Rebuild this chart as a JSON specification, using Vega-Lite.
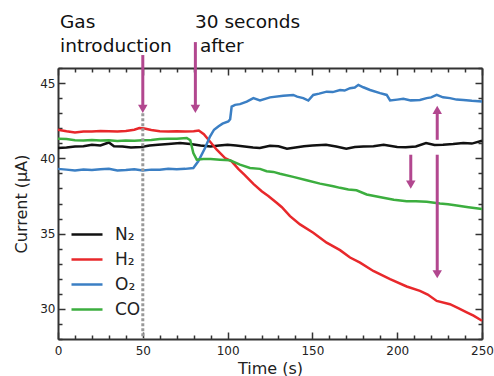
{
  "$schema": "https://vega.github.io/schema/vega-lite/v6.json",
  "width": 424,
  "height": 271,
  "autosize": "none",
  "padding": {"left": 58, "top": 68, "right": 12, "bottom": 37},
  "config": {
    "view": {"stroke": null},
    "font": "DejaVu Sans",
    "axis": {
      "grid": false,
      "labelFont": "DejaVu Sans",
      "labelFontSize": 12,
      "labelColor": "#222",
      "titleFont": "DejaVu Sans",
      "titleFontSize": 16,
      "titleFontWeight": "normal",
      "titleColor": "#222",
      "domainColor": "#333",
      "domainWidth": 2,
      "tickColor": "#333",
      "tickWidth": 1.5,
      "labelOverlap": false,
      "labelFlush": false
    }
  },
  "datasets": {
    "lines": [
      {"gas":"N₂","t":0,"v":40.69},{"gas":"N₂","t":5,"v":40.72},{"gas":"N₂","t":10,"v":40.78},{"gas":"N₂","t":15,"v":40.8},{"gas":"N₂","t":20,"v":40.9},{"gas":"N₂","t":25,"v":40.85},{"gas":"N₂","t":30,"v":41.05},{"gas":"N₂","t":33,"v":40.8},{"gas":"N₂","t":38,"v":40.78},{"gas":"N₂","t":43,"v":40.72},{"gas":"N₂","t":49,"v":40.75},{"gas":"N₂","t":54,"v":40.85},{"gas":"N₂","t":59,"v":40.9},{"gas":"N₂","t":65,"v":40.95},{"gas":"N₂","t":72,"v":41.02},{"gas":"N₂","t":78,"v":40.95},{"gas":"N₂","t":84,"v":40.85},{"gas":"N₂","t":90,"v":40.79},{"gas":"N₂","t":95,"v":40.85},{"gas":"N₂","t":100,"v":40.9},{"gas":"N₂","t":105,"v":40.85},{"gas":"N₂","t":110,"v":40.79},{"gas":"N₂","t":115,"v":40.72},{"gas":"N₂","t":119,"v":40.69},{"gas":"N₂","t":125,"v":40.84},{"gas":"N₂","t":130,"v":40.8},{"gas":"N₂","t":135,"v":40.64},{"gas":"N₂","t":140,"v":40.72},{"gas":"N₂","t":145,"v":40.8},{"gas":"N₂","t":150,"v":40.85},{"gas":"N₂","t":158,"v":40.9},{"gas":"N₂","t":164,"v":40.78},{"gas":"N₂","t":170,"v":40.64},{"gas":"N₂","t":175,"v":40.75},{"gas":"N₂","t":180,"v":40.79},{"gas":"N₂","t":186,"v":40.8},{"gas":"N₂","t":192,"v":40.9},{"gas":"N₂","t":200,"v":40.75},{"gas":"N₂","t":205,"v":40.74},{"gas":"N₂","t":211,"v":40.79},{"gas":"N₂","t":217,"v":41.02},{"gas":"N₂","t":222,"v":40.88},{"gas":"N₂","t":227,"v":40.9},{"gas":"N₂","t":233,"v":40.95},{"gas":"N₂","t":239,"v":41.02},{"gas":"N₂","t":244,"v":40.98},{"gas":"N₂","t":250,"v":41.17},
      {"gas":"H₂","t":0,"v":41.9},{"gas":"H₂","t":5,"v":41.8},{"gas":"H₂","t":10,"v":41.72},{"gas":"H₂","t":15,"v":41.78},{"gas":"H₂","t":20,"v":41.78},{"gas":"H₂","t":25,"v":41.82},{"gas":"H₂","t":30,"v":41.8},{"gas":"H₂","t":35,"v":41.78},{"gas":"H₂","t":40,"v":41.82},{"gas":"H₂","t":45,"v":41.9},{"gas":"H₂","t":48,"v":42.01},{"gas":"H₂","t":51,"v":41.98},{"gas":"H₂","t":55,"v":41.88},{"gas":"H₂","t":60,"v":41.8},{"gas":"H₂","t":65,"v":41.78},{"gas":"H₂","t":70,"v":41.8},{"gas":"H₂","t":75,"v":41.78},{"gas":"H₂","t":80,"v":41.8},{"gas":"H₂","t":83,"v":41.85},{"gas":"H₂","t":86,"v":41.6},{"gas":"H₂","t":89.6,"v":41.12},{"gas":"H₂","t":93.6,"v":40.57},{"gas":"H₂","t":98.5,"v":40.02},{"gas":"H₂","t":102.4,"v":39.8},{"gas":"H₂","t":106.3,"v":39.3},{"gas":"H₂","t":110,"v":38.9},{"gas":"H₂","t":115.2,"v":38.3},{"gas":"H₂","t":120.1,"v":37.81},{"gas":"H₂","t":124,"v":37.5},{"gas":"H₂","t":128.9,"v":37.05},{"gas":"H₂","t":132,"v":36.75},{"gas":"H₂","t":136.8,"v":36.16},{"gas":"H₂","t":142.7,"v":35.61},{"gas":"H₂","t":150.5,"v":35.06},{"gas":"H₂","t":158.4,"v":34.4},{"gas":"H₂","t":166.3,"v":33.9},{"gas":"H₂","t":172.2,"v":33.41},{"gas":"H₂","t":178.1,"v":33.07},{"gas":"H₂","t":185.9,"v":32.52},{"gas":"H₂","t":195.8,"v":31.97},{"gas":"H₂","t":205.6,"v":31.49},{"gas":"H₂","t":213.4,"v":31.2},{"gas":"H₂","t":218,"v":30.95},{"gas":"H₂","t":223.3,"v":30.53},{"gas":"H₂","t":231.1,"v":30.31},{"gas":"H₂","t":236,"v":30.05},{"gas":"H₂","t":241,"v":29.77},{"gas":"H₂","t":245,"v":29.55},{"gas":"H₂","t":250,"v":29.21},
      {"gas":"O₂","t":0,"v":39.3},{"gas":"O₂","t":5,"v":39.25},{"gas":"O₂","t":10,"v":39.2},{"gas":"O₂","t":15,"v":39.25},{"gas":"O₂","t":20,"v":39.22},{"gas":"O₂","t":25,"v":39.28},{"gas":"O₂","t":30,"v":39.3},{"gas":"O₂","t":35,"v":39.2},{"gas":"O₂","t":40,"v":39.22},{"gas":"O₂","t":45,"v":39.28},{"gas":"O₂","t":50,"v":39.2},{"gas":"O₂","t":55,"v":39.25},{"gas":"O₂","t":60,"v":39.25},{"gas":"O₂","t":65,"v":39.3},{"gas":"O₂","t":70,"v":39.28},{"gas":"O₂","t":75,"v":39.3},{"gas":"O₂","t":79.8,"v":39.36},{"gas":"O₂","t":82.7,"v":39.8},{"gas":"O₂","t":86.7,"v":40.69},{"gas":"O₂","t":89.6,"v":41.45},{"gas":"O₂","t":92,"v":41.9},{"gas":"O₂","t":94.5,"v":42.12},{"gas":"O₂","t":97,"v":42.3},{"gas":"O₂","t":100.4,"v":42.45},{"gas":"O₂","t":101.5,"v":42.6},{"gas":"O₂","t":102.4,"v":43.44},{"gas":"O₂","t":104.4,"v":43.55},{"gas":"O₂","t":107.3,"v":43.6},{"gas":"O₂","t":111.3,"v":43.77},{"gas":"O₂","t":115.2,"v":44.0},{"gas":"O₂","t":119.1,"v":43.85},{"gas":"O₂","t":125,"v":44.05},{"gas":"O₂","t":132.8,"v":44.15},{"gas":"O₂","t":138.7,"v":44.21},{"gas":"O₂","t":141,"v":44.1},{"gas":"O₂","t":144.6,"v":44.0},{"gas":"O₂","t":147.6,"v":43.84},{"gas":"O₂","t":150.5,"v":44.21},{"gas":"O₂","t":154,"v":44.3},{"gas":"O₂","t":158.4,"v":44.43},{"gas":"O₂","t":162,"v":44.4},{"gas":"O₂","t":166.3,"v":44.54},{"gas":"O₂","t":169,"v":44.5},{"gas":"O₂","t":172.2,"v":44.66},{"gas":"O₂","t":175,"v":44.7},{"gas":"O₂","t":177.1,"v":44.88},{"gas":"O₂","t":180,"v":44.72},{"gas":"O₂","t":184,"v":44.54},{"gas":"O₂","t":189.9,"v":44.33},{"gas":"O₂","t":193.8,"v":44.21},{"gas":"O₂","t":195.8,"v":43.84},{"gas":"O₂","t":200,"v":43.9},{"gas":"O₂","t":203.6,"v":43.95},{"gas":"O₂","t":208,"v":43.85},{"gas":"O₂","t":213.4,"v":43.88},{"gas":"O₂","t":217.4,"v":44.0},{"gas":"O₂","t":220,"v":44.05},{"gas":"O₂","t":223.3,"v":44.21},{"gas":"O₂","t":227,"v":44.05},{"gas":"O₂","t":231.1,"v":44.0},{"gas":"O₂","t":235,"v":43.9},{"gas":"O₂","t":239,"v":43.88},{"gas":"O₂","t":244,"v":43.82},{"gas":"O₂","t":250,"v":43.77},
      {"gas":"CO","t":0,"v":41.3},{"gas":"CO","t":5,"v":41.28},{"gas":"CO","t":10,"v":41.2},{"gas":"CO","t":15,"v":41.18},{"gas":"CO","t":20,"v":41.22},{"gas":"CO","t":25,"v":41.18},{"gas":"CO","t":30,"v":41.2},{"gas":"CO","t":35,"v":41.15},{"gas":"CO","t":40,"v":41.18},{"gas":"CO","t":45,"v":41.17},{"gas":"CO","t":50,"v":41.2},{"gas":"CO","t":55,"v":41.22},{"gas":"CO","t":60,"v":41.28},{"gas":"CO","t":65,"v":41.3},{"gas":"CO","t":70,"v":41.3},{"gas":"CO","t":75.9,"v":41.35},{"gas":"CO","t":78,"v":41.2},{"gas":"CO","t":79.8,"v":40.35},{"gas":"CO","t":81.8,"v":39.91},{"gas":"CO","t":85.7,"v":39.96},{"gas":"CO","t":90,"v":39.95},{"gas":"CO","t":95.5,"v":39.91},{"gas":"CO","t":101.4,"v":39.87},{"gas":"CO","t":107.3,"v":39.58},{"gas":"CO","t":113.2,"v":39.36},{"gas":"CO","t":119.1,"v":39.3},{"gas":"CO","t":123,"v":39.14},{"gas":"CO","t":127,"v":39.1},{"gas":"CO","t":130.9,"v":38.98},{"gas":"CO","t":138.7,"v":38.77},{"gas":"CO","t":146.6,"v":38.54},{"gas":"CO","t":154.5,"v":38.32},{"gas":"CO","t":162.3,"v":38.15},{"gas":"CO","t":166.3,"v":38.04},{"gas":"CO","t":171.2,"v":37.93},{"gas":"CO","t":176,"v":37.88},{"gas":"CO","t":182,"v":37.6},{"gas":"CO","t":191.8,"v":37.38},{"gas":"CO","t":198,"v":37.25},{"gas":"CO","t":205.6,"v":37.15},{"gas":"CO","t":211,"v":37.15},{"gas":"CO","t":217.4,"v":37.11},{"gas":"CO","t":225.2,"v":37.0},{"gas":"CO","t":230,"v":36.95},{"gas":"CO","t":235.1,"v":36.87},{"gas":"CO","t":242,"v":36.75},{"gas":"CO","t":250,"v":36.63}
    ],
    "marker": [{"t": 50, "v": 43.0, "v2": 28}],
    "shafts": [
      {"t": 50, "v": 46.86, "v2": 43.3},
      {"t": 81, "v": 47.72, "v2": 43.3},
      {"t": 208, "v": 40.24, "v2": 38.3},
      {"t": 223.6, "v": 43.2, "v2": 41.23},
      {"t": 223.6, "v": 40.24, "v2": 32.3}
    ],
    "heads": [
      {"t": 50, "v": 43.28, "dir": "down"},
      {"t": 81, "v": 43.28, "dir": "down"},
      {"t": 208, "v": 38.26, "dir": "down"},
      {"t": 223.6, "v": 43.22, "dir": "up"},
      {"t": 223.6, "v": 32.3, "dir": "down"}
    ],
    "notes": [
      {"t": 1.2, "v": 48.63, "text": "Gas"},
      {"t": 1.2, "v": 47.08, "text": "introduction"},
      {"t": 80.8, "v": 48.63, "text": "30 seconds"},
      {"t": 83.7, "v": 47.08, "text": "after"}
    ]
  },
  "layer": [
    {
      "data": {"name": "lines"},
      "mark": {"type": "line", "strokeWidth": 2.5},
      "encoding": {
        "x": {
          "field": "t", "type": "quantitative",
          "scale": {"domain": [0, 250], "nice": false, "zero": false},
          "axis": {
            "orient": "bottom",
            "title": "Time (s)",
            "values": [0,10,20,30,40,50,60,70,80,90,100,110,120,130,140,150,160,170,180,190,200,210,220,230,240,250],
            "labelExpr": "datum.value % 50 === 0 ? datum.label : ''",
            "tickSize": {"condition": {"test": "datum.value % 50 === 0", "value": -7}, "value": -4},
            "labelPadding": 13,
            "titlePadding": 1
          }
        },
        "y": {
          "field": "v", "type": "quantitative",
          "scale": {"domain": [28, 46], "nice": false, "zero": false},
          "axis": {
            "orient": "left",
            "title": "Current (μA)",
            "values": [28,29,30,31,32,33,34,35,36,37,38,39,40,41,42,43,44,45,46],
            "labelExpr": "datum.value % 5 === 0 ? datum.label : ''",
            "tickSize": {"condition": {"test": "datum.value % 5 === 0", "value": -7}, "value": -4},
            "labelPadding": 10,
            "titlePadding": 10
          }
        },
        "color": {
          "field": "gas", "type": "nominal",
          "scale": {"domain": ["N₂", "H₂", "O₂", "CO"], "range": ["#111111", "#e8282b", "#3b7fc4", "#3cae3f"]},
          "legend": {
            "orient": "none",
            "legendX": 12,
            "legendY": 154,
            "title": null,
            "symbolType": "stroke",
            "symbolSize": 961,
            "symbolStrokeWidth": 2.5,
            "labelFont": "DejaVu Sans",
            "labelFontSize": 17,
            "labelColor": "#222",
            "labelOffset": 11,
            "clipHeight": 25,
            "rowPadding": 0,
            "padding": 0
          }
        }
      }
    },
    {
      "data": {"name": "marker"},
      "mark": {"type": "rule", "color": "#999999", "strokeWidth": 3, "strokeDash": [3, 2]},
      "encoding": {
        "x": {"field": "t", "type": "quantitative", "axis": null},
        "y": {"field": "v", "type": "quantitative", "axis": null},
        "y2": {"field": "v2"}
      }
    },
    {
      "data": {"name": "shafts"},
      "mark": {"type": "rule", "color": "#b2478f", "strokeWidth": 3},
      "encoding": {
        "x": {
          "field": "t", "type": "quantitative",
          "axis": {
            "orient": "top", "title": null, "labels": false,
            "values": [0,10,20,30,40,50,60,70,80,90,100,110,120,130,140,150,160,170,180,190,200,210,220,230,240,250],
            "tickSize": {"condition": {"test": "datum.value % 50 === 0", "value": -7}, "value": -4}
          }
        },
        "y": {
          "field": "v", "type": "quantitative",
          "axis": {
            "orient": "right", "title": null, "labels": false,
            "values": [28,29,30,31,32,33,34,35,36,37,38,39,40,41,42,43,44,45,46],
            "tickSize": {"condition": {"test": "datum.value % 5 === 0", "value": -7}, "value": -4}
          }
        },
        "y2": {"field": "v2"}
      }
    },
    {
      "data": {"name": "heads"},
      "mark": {"type": "point", "filled": true, "opacity": 1, "color": "#b2478f", "size": 90},
      "encoding": {
        "x": {"field": "t", "type": "quantitative", "axis": null},
        "y": {"field": "v", "type": "quantitative", "axis": null},
        "shape": {
          "field": "dir", "type": "nominal",
          "scale": {"domain": ["down", "up"], "range": ["triangle-down", "triangle-up"]},
          "legend": null
        }
      }
    },
    {
      "data": {"name": "notes"},
      "mark": {"type": "text", "align": "left", "baseline": "alphabetic", "font": "DejaVu Sans", "fontSize": 18.5, "color": "#111"},
      "encoding": {
        "x": {"field": "t", "type": "quantitative", "axis": null},
        "y": {"field": "v", "type": "quantitative", "axis": null},
        "text": {"field": "text"}
      }
    }
  ],
  "resolve": {"axis": {"x": "independent", "y": "independent"}}
}
